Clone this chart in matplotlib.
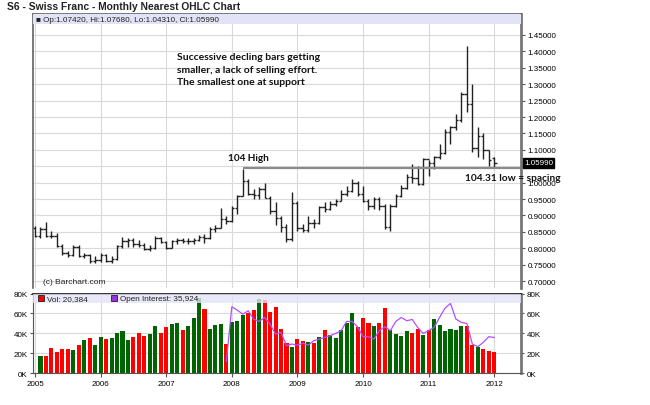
import numpy as np
import matplotlib
matplotlib.use("Agg")
from matplotlib import pyplot as plt
from matplotlib.patches import Rectangle
from matplotlib.ticker import FuncFormatter

plt.rcParams['font.family'] = ['Liberation Sans', 'DejaVu Sans']

# monthly bars, Jan 2005 .. Jan 2012
years = ['2005', '2006', '2007', '2008', '2009', '2010', '2011', '2012']

opens = [0.862, 0.838, 0.860, 0.838, 0.836, 0.808, 0.784, 0.778, 0.804, 0.776, 0.778, 0.760,
         0.763, 0.780, 0.762, 0.768, 0.806, 0.822, 0.825, 0.812, 0.810, 0.798, 0.800, 0.832,
         0.820, 0.802, 0.822, 0.824, 0.821, 0.823, 0.826, 0.834, 0.832, 0.858, 0.862, 0.888,
         0.883, 0.924, 0.959, 1.005, 0.964, 0.961, 0.982, 0.954, 0.912, 0.892, 0.865, 0.828,
         0.938, 0.863, 0.855, 0.878, 0.877, 0.925, 0.921, 0.934, 0.944, 0.966, 0.974, 1.000,
         0.966, 0.943, 0.929, 0.949, 0.929, 0.866, 0.928, 0.960, 0.985, 1.017, 1.015, 0.996,
         1.071, 1.059, 1.079, 1.089, 1.155, 1.168, 1.190, 1.271, 1.240, 1.104, 1.142, 1.098,
         1.0742]
highs = [0.868, 0.866, 0.880, 0.852, 0.845, 0.812, 0.792, 0.810, 0.810, 0.785, 0.782, 0.775,
         0.786, 0.783, 0.775, 0.810, 0.835, 0.832, 0.830, 0.825, 0.815, 0.810, 0.836, 0.835,
         0.822, 0.826, 0.830, 0.832, 0.830, 0.830, 0.840, 0.842, 0.866, 0.870, 0.922, 0.898,
         0.930, 0.962, 1.043, 1.012, 0.980, 0.988, 1.000, 0.960, 0.940, 0.898, 0.874, 0.970,
         0.944, 0.874, 0.898, 0.890, 0.930, 0.942, 0.944, 0.950, 0.978, 0.990, 1.010, 1.005,
         0.990, 0.950, 0.956, 0.956, 0.935, 0.935, 0.965, 0.992, 1.026, 1.057, 1.050, 1.074,
         1.068, 1.082, 1.118, 1.163, 1.172, 1.210, 1.276, 1.416, 1.300, 1.170, 1.150, 1.098,
         1.0768]
lows = [0.835, 0.830, 0.835, 0.830, 0.805, 0.780, 0.772, 0.775, 0.772, 0.770, 0.756, 0.755,
        0.758, 0.758, 0.755, 0.765, 0.800, 0.805, 0.805, 0.805, 0.795, 0.792, 0.798, 0.815,
        0.798, 0.800, 0.812, 0.815, 0.812, 0.814, 0.822, 0.815, 0.828, 0.850, 0.862, 0.875,
        0.880, 0.904, 0.958, 0.962, 0.950, 0.950, 0.952, 0.904, 0.872, 0.850, 0.820, 0.822,
        0.852, 0.848, 0.850, 0.862, 0.875, 0.910, 0.916, 0.928, 0.944, 0.958, 0.970, 0.960,
        0.940, 0.918, 0.920, 0.915, 0.860, 0.852, 0.925, 0.955, 0.980, 1.000, 0.994, 0.994,
        1.020, 1.040, 1.072, 1.088, 1.118, 1.160, 1.185, 1.215, 1.093, 1.078, 1.072, 1.050,
        1.0431]
closes = [0.838, 0.860, 0.838, 0.836, 0.808, 0.784, 0.778, 0.804, 0.776, 0.778, 0.760, 0.763,
          0.780, 0.762, 0.768, 0.806, 0.822, 0.825, 0.812, 0.810, 0.798, 0.800, 0.832, 0.820,
          0.802, 0.822, 0.824, 0.821, 0.823, 0.826, 0.834, 0.832, 0.858, 0.862, 0.888, 0.883,
          0.924, 0.959, 1.005, 0.964, 0.961, 0.982, 0.954, 0.912, 0.892, 0.865, 0.828, 0.938,
          0.863, 0.855, 0.878, 0.877, 0.925, 0.921, 0.934, 0.944, 0.966, 0.974, 1.000, 0.966,
          0.943, 0.929, 0.949, 0.929, 0.866, 0.928, 0.960, 0.985, 1.017, 1.015, 0.996, 1.071,
          1.059, 1.079, 1.089, 1.155, 1.168, 1.190, 1.271, 1.240, 1.104, 1.142, 1.098, 1.068,
          1.0599]

# volume in K, Feb 2005 .. Jan 2012
volume = [17.7, 17.7, 25.3, 21.3, 24.0, 24.7, 23.0, 28.0, 33.3, 35.0, 28.0,
          36.0, 34.3, 35.7, 40.3, 42.0, 33.3, 36.0, 40.3, 37.3, 39.7, 47.0, 40.0,
          46.0, 49.0, 50.0, 43.7, 47.7, 55.0, 75.0, 64.3, 44.3, 48.3, 49.3, 29.3,
          51.0, 52.3, 58.0, 60.0, 63.3, 74.3, 73.3, 61.3, 66.7, 44.7, 30.3, 26.7,
          34.3, 32.7, 31.0, 30.3, 36.0, 43.7, 38.7, 35.3, 43.7, 50.0, 60.3, 46.0,
          55.7, 50.7, 47.7, 50.7, 65.0, 43.0, 39.0, 37.3, 42.0, 40.3, 44.7, 38.3,
          43.0, 54.3, 48.7, 42.3, 44.7, 43.0, 47.0, 47.7, 28.0, 26.7, 24.0, 22.3,
          21.0]

# open interest in K, Dec 2007 .. Jan 2012
open_interest = [12.0, 66.7, 63.3, 59.3, 62.7, 54.3, 52.0, 56.0, 49.3, 39.3, 41.0, 27.7,
                 29.3, 28.3, 30.0, 28.3, 32.7, 34.3, 36.0, 37.7, 40.0, 42.7, 52.0, 52.0,
                 46.7, 36.7, 36.7, 34.3, 42.7, 46.7, 42.7, 52.0, 56.0, 52.7, 54.0, 46.0,
                 40.0, 42.7, 46.0, 56.0, 65.3, 70.0, 54.3, 51.0, 50.0, 29.3, 26.7, 31.0,
                 36.7, 35.9]

level_104 = 1.0431
x = np.arange(len(closes))
xlim = (-0.37, 88.9)
year_pos = np.arange(0, len(closes), 12)
grid_c = '#dadada'
tick_fs = 5.8

fig = plt.figure(figsize=(6.5, 4.06), dpi=100)
fig.text(7 / 650, 1 - 7.5 / 406, 'S6 - Swiss Franc - Monthly Nearest OHLC Chart',
         fontsize=7.4, fontweight='bold', va='center', ha='left', color='#222')

# ---- price panel
ax = fig.add_axes([33 / 650, (406 - 289) / 406, 488 / 650, 274 / 406])
ax.set_xlim(*xlim)
ax.set_ylim(0.6787, 1.514)
price_ticks = np.arange(0.70, 1.4501, 0.05)
ax.set_yticks(price_ticks)
# the 1.05 label sits under the last-price box
ax.set_yticklabels(['' if abs(t - 1.05) < 1e-6 else '%.5f' % t for t in price_ticks])
ax.yaxis.tick_right()
ax.set_xticks(year_pos)
ax.set_xticklabels([])
ax.tick_params(axis='x', length=0)
ax.tick_params(axis='y', labelsize=tick_fs, length=3, color='#555', pad=1.5)
ax.grid(True, color=grid_c, lw=0.8)
ax.set_axisbelow(True)
for side in ['left', 'top']:
    ax.spines[side].set_color('#555')
    ax.spines[side].set_linewidth(1.1)
ax.spines['right'].set_color('#777')
ax.spines['right'].set_linewidth(2)
ax.spines['bottom'].set_visible(False)

ax.vlines(x, lows, highs, color='#222', lw=1)
ax.hlines(opens, x - 0.45, x, color='#222', lw=1)
ax.hlines(closes, x, x + 0.45, color='#222', lw=1)

ax.hlines(level_104, 38, xlim[1], color='#8a8a8a', lw=1.6)

ax.add_patch(Rectangle((0, 0.9635), 1, 0.0365, transform=ax.transAxes,
                       facecolor='#e3e3f7', edgecolor='none', zorder=3))
ax.text(0.006, 0.981, '■ Op:1.07420, Hi:1.07680, Lo:1.04310, Cl:1.05990',
        transform=ax.transAxes, fontsize=5.9, va='center', ha='left', zorder=4, color='#222')

ax.text(1.006, closes[-1], '1.05990', transform=ax.get_yaxis_transform(),
        fontsize=tick_fs, color='white', va='center', ha='left', clip_on=False,
        bbox=dict(boxstyle='square,pad=0.15', fc='black', ec='black'), zorder=5)

ann_font = dict(family=['Lato', 'DejaVu Sans'], fontweight='bold', color='#111')
ax.text(26.0, 1.3463, 'Successive decling bars getting\nsmaller, a lack of selling effort.\nThe smallest one at support',
        fontsize=7.5, va='center', ha='left', linespacing=1.45, **ann_font)
ax.text(35.3, 1.078, '104 High', fontsize=7.2, va='center', ha='left', **ann_font)
ax.text(78.6, 1.017, '104.31 low = spacing', fontsize=7.3, va='center', ha='left',
        clip_on=False, **ann_font)
ax.text(1.5, 0.697, '(c) Barchart.com', fontsize=6.0, va='center', ha='left', color='#222')

# ---- volume panel
axv = fig.add_axes([33 / 650, (406 - 374.3) / 406, 488 / 650, 79.8 / 406])
axv.set_xlim(*xlim)
axv.set_ylim(0, 80)
vx = x[1:]
vcol = ['#ff0000' if closes[i] < closes[i - 1] else '#006400' for i in vx]
axv.bar(vx, volume, width=0.74, color=vcol, zorder=2)
axv.plot(np.arange(35, 85), open_interest, color='#b050ff', lw=0.9, zorder=2.5)

axv.set_yticks([0, 20, 40, 60, 80])
axv.yaxis.set_major_formatter(FuncFormatter(lambda v, p: '%dK' % v))
axv.tick_params(axis='y', left=True, right=True, labelleft=True, labelright=True,
                labelsize=tick_fs, length=2.5, color='#555', pad=1.5)
axv.set_xticks(year_pos)
axv.set_xticklabels(years)
axv.tick_params(axis='x', labelsize=tick_fs, length=3, color='#555', pad=1.5)
axv.grid(True, color=grid_c, lw=0.8)
axv.set_axisbelow(True)
axv.spines['top'].set_color('#111')
axv.spines['top'].set_linewidth(1.2)
axv.spines['left'].set_color('#555')
axv.spines['bottom'].set_color('#555')
axv.spines['right'].set_color('#777')
axv.spines['right'].set_linewidth(2)

axv.add_patch(Rectangle((0, 0.88), 1, 0.12, transform=axv.transAxes,
                        facecolor='#e3e3f7', edgecolor='none', alpha=0.8, zorder=3))
axv.plot([0.016], [0.94], marker='s', ms=4.3, mfc='#ff0000', mec='#222', mew=0.6,
         transform=axv.transAxes, zorder=4)
axv.text(0.029, 0.94, 'Vol: 20,384', transform=axv.transAxes, fontsize=5.9,
         va='center', ha='left', zorder=4, color='#222')
axv.plot([0.165], [0.94], marker='s', ms=4.3, mfc='#9a30e0', mec='#222', mew=0.6,
         transform=axv.transAxes, zorder=4)
axv.text(0.178, 0.94, 'Open Interest: 35,924', transform=axv.transAxes, fontsize=5.9,
         va='center', ha='left', zorder=4, color='#222')

fig.savefig('out.png', dpi=100)
